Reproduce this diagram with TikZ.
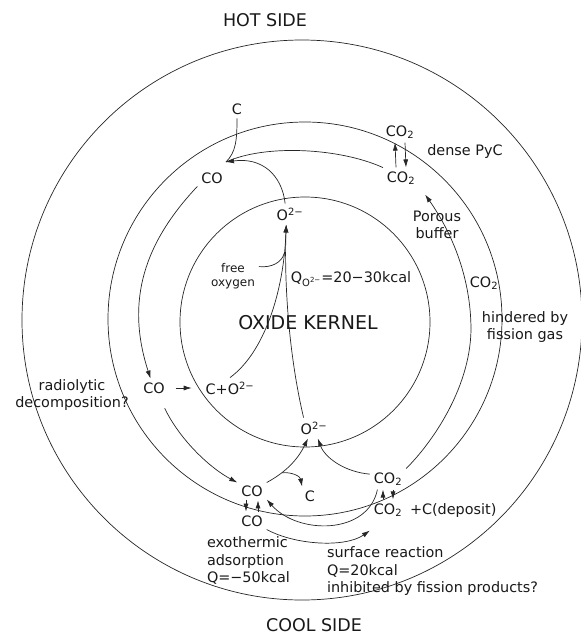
\documentclass[tikz,border=0pt]{standalone}
\usepackage{fontspec}
\setmainfont{DejaVu Sans}
\usetikzlibrary{arrows.meta}

\tikzset{
  ring/.style={line width=0.7pt, black!85},
  trail/.style={line width=0.7pt, black!85},
  flow/.style={trail, -{Latex[length=8pt,width=5pt]}},
  lbl/.style={inner sep=1pt, outer sep=3pt, text=black!90, font=\fontsize{14.4}{17.5}\selectfont},
  smalllbl/.style={lbl, font=\fontsize{12}{14}\selectfont},
  biglbl/.style={lbl, font=\fontsize{17.5}{21}\selectfont},
}

\begin{document}
\begin{tikzpicture}[x=1pt, y=-1pt]
\useasboundingbox (0,0) rectangle (581,635);

\draw[ring] (302,320) circle[radius=280pt];
\draw[ring] (305,319) circle[radius=197pt];
\draw[ring] (305,322) circle[radius=125pt];

\node[biglbl] (hot) at (265,20) {HOT SIDE};
\node[biglbl] (cool) at (314,625) {COOL SIDE};
\node[lbl, font=\fontsize{19}{22}\selectfont] (kernel) at (308,323) {OXIDE KERNEL};

\node[lbl] (c1) at (237,109) {C};
\node[lbl] (co1) at (212,178) {CO};
\node[lbl] (o1) at (290,214) {O\textsuperscript{2−}};
\node[lbl] (co2a) at (400,132) {CO\textsubscript{2}};
\node[lbl] (co2b) at (401,178) {CO\textsubscript{2}};
\node[lbl] (pyc) at (465,152) {dense PyC};
\node[lbl, align=center] (buf) at (437,225) {Porous\\buffer};
\node[lbl] (co2c) at (484,283) {CO\textsubscript{2}};
\node[lbl, align=center] (hind) at (525,327) {hindered by\\fission gas};
\node[lbl] (qo) at (351,279) {Q\textsubscript{O\textsuperscript{2−}}=20−30kcal};
\node[smalllbl, align=center] (free) at (233,276) {free\\oxygen};
\node[lbl, align=center] (radio) at (72,395) {radiolytic\\decomposition?};
\node[lbl] (co3) at (154,388) {CO};
\node[lbl] (cpo) at (230,388) {C+O\textsuperscript{2−}};
\node[lbl] (o2) at (314,428) {O\textsuperscript{2−}};
\node[lbl] (co4) at (252,491) {CO};
\node[lbl] (co5) at (252,521) {CO};
\node[lbl] (c2) at (310,496) {C};
\node[lbl] (co2d) at (388,479) {CO\textsubscript{2}};
\node[lbl] (co2e) at (388,510) {CO\textsubscript{2}};
\node[lbl, anchor=west] (dep) at (406,511) {+C(deposit)};
\node[lbl, align=left, anchor=north west] (exo) at (203,533) {exothermic\\adsorption\\Q=−50kcal};
\node[lbl, align=left, anchor=north west] (surf) at (323,543) {surface reaction\\Q=20kcal\\inhibited by fission products?};

\coordinate (j1) at (226,162);
\coordinate (rb) at (471,330);

\draw[trail] (co2b.150) .. controls (340,148) and (265,144) .. (j1);
\draw[flow] (o1.115) .. controls (282,175) and (262,157) .. (j1);
\draw[trail] (c1.south) .. controls (237,140) and (236,152) .. (j1);
\draw[flow] (co1.210) .. controls (145,242) and (125,300) .. (co3.110);
\draw[flow, shorten <=7pt, shorten >=10pt] (co3) -- (cpo);
\draw[flow] (cpo.north) .. controls (265,352) and (284,290) .. (o1.250) coordinate[pos=0.85] (jf);
\draw[trail] (free.20) .. controls (272,268) and (282,262) .. (jf);
\draw[flow] (o2.135) .. controls (290,360) and (284,290) .. (o1.250);
\draw[flow] (co4.30) .. controls (290,470) and (300,455) .. (o2.240) coordinate[pos=0.25] (lb);
\draw[flow] (lb) .. controls (292,472) and (300,476) .. (c2.130);
\draw[flow] (co2d.165) .. controls (345,472) and (325,458) .. (o2.290);
\draw[flow, shorten <=12pt] (co3.300) .. controls (180,440) and (210,468) .. (co4.150);
\draw[flow] (co2d.225) .. controls (368,535) and (298,535) .. (co4.330);
\draw[flow] (co5.330) .. controls (295,545) and (345,548) .. ([yshift=-10pt]co2e.south west);
\draw[flow] (co2d.30) .. controls (430,445) and (470,390) .. (rb)
  .. controls (471,275) and (450,230) .. ([shift={(6pt,-6pt)}]co2b.south east);

\draw[flow] ([xshift=-5pt]co2b.north) -- ([xshift=-5pt]co2a.south);
\draw[flow] ([xshift=5pt]co2a.south) -- ([xshift=5pt]co2b.north);
\draw[flow] ([xshift=-6pt]co4.south) -- ([xshift=-6pt]co5.north);
\draw[flow] ([xshift=6pt]co5.north) -- ([xshift=6pt]co4.south);
\draw[flow] ([xshift=-5pt]co2e.north) -- ([xshift=-5pt]co2d.south);
\draw[flow] ([xshift=5pt]co2d.south) -- ([xshift=5pt]co2e.north);
\end{tikzpicture}
\end{document}
